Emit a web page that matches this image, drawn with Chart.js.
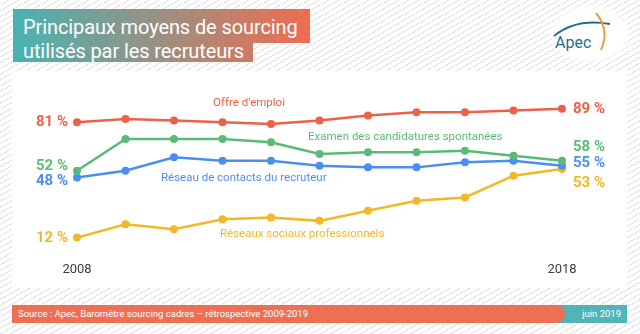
<!DOCTYPE html>
<html lang="fr">
<head>
<meta charset="utf-8">
<script src="https://cdn.jsdelivr.net/npm/chart.js@4"></script>
<style>
  html, body { margin: 0; padding: 0; }
  body {
    width: 640px; height: 334px; position: relative; overflow: hidden;
    font-family: Roboto, "Noto Sans", sans-serif;
    background: repeating-linear-gradient(150deg, #ffffff 0 4px, #e3e3e3 4px 5px);
  }
  .panel { position: absolute; left: 12px; top: 71px; width: 615px; height: 217px; background: #fff; }
  .logo-bg { position: absolute; left: 548px; top: 4px; width: 84px; height: 60px; border-radius: 50%;
    background: radial-gradient(ellipse at center, #fff 55%, rgba(255,255,255,0) 72%); }
  .titre { position: absolute; left: 13px; color: #fff; font-size: 20px; line-height: 24px; white-space: nowrap;
    letter-spacing: -0.1px;
    background: linear-gradient(90deg, #48b3b2, #f06c50) 0 0 / 297px 100% no-repeat; padding: 0 0 0 10px; box-sizing: border-box; }
  .t1 { top: 9px; height: 34px; width: 297px; padding-top: 6px; }
  .t2 { top: 43px; height: 19px; width: 240px; line-height: 17px; }
  .footer-a { position: absolute; left: 540px; top: 305px; width: 87px; height: 18px; background: #4fb5b7; }
  .footer-b { position: absolute; left: 12px; top: 305px; width: 553px; height: 18px; background: #ef6f55;
    border-radius: 0 10px 10px 0; }
  .footer-b span, .footer-a span { color: #fff; font-size: 9.5px; line-height: 18px; position: absolute; white-space: nowrap; }
  .footer-b span { left: 6px; }
  .footer-a span { right: 6px; }
  canvas { position: absolute; left: 0; top: 0; }
  svg { position: absolute; left: 548px; top: 10px; }
</style>
</head>
<body>
<div class="panel"></div>
<div class="logo-bg"></div>
<svg width="80" height="50" viewBox="0 0 80 50">
  <path d="M6 26 Q 28 8 62 14" fill="none" stroke="#1f6f8b" stroke-width="2"/>
  <path d="M48 3 Q 62 20 53 40" fill="none" stroke="#f29a3a" stroke-width="2"/>
  <text x="7" y="38" font-family="Roboto, sans-serif" font-size="16" fill="#1f6f8b">Apec</text>
</svg>
<div class="titre t1">Principaux moyens de sourcing</div>
<div class="titre t2">utilisés par les recruteurs</div>
<div class="footer-a"><span>juin 2019</span></div>
<div class="footer-b"><span>Source : Apec, Baromètre sourcing cadres – rétrospective 2009-2019</span></div>
<canvas id="chart" width="640" height="334"></canvas>
<script>
// années et séries (en %)
var annees = ["2008", "2009", "2010", "2011", "2012", "2013", "2014", "2015", "2016", "2017", "2018"];
var anneesAffichees = ["2008", "2018"];
var offreEmploi = [81, 83, 82, 81, 80, 82, 85, 87, 87, 88, 89];
var candidatures = [52, 71, 71, 71, 69, 62, 63, 63, 64, 61, 58];
var reseauContacts = [48, 52, 60, 58, 58, 55, 54, 54, 57, 58, 55];
var reseauxSociaux = [12, 20, 17, 23, 24, 22, 28, 34, 36, 49, 53];
var nomsSeries = ["Offre d\u2019emploi", "Examen des candidatures spontanées",
    "Réseau de contacts du recruteur", "Réseaux sociaux professionnels"];
var couleurs = ["#ec614a", "#5cba77", "#4b8ef0", "#f1b827"];

var serie = function (label, data, couleur) {
    return {
        label: label,
        data: data,
        borderColor: couleur,
        backgroundColor: couleur,
        pointBackgroundColor: couleur,
        pointBorderWidth: 0,
        pointRadius: 4,
        borderWidth: 2.5,
        tension: 0
    };
};

// étiquettes : valeurs en début / fin de courbe et noms des séries
var etiquettes = {
    id: "etiquettes",
    afterDatasetsDraw: function (chart) {
        var ctx = chart.ctx;
        var xs = chart.scales.x;
        var ys = chart.scales.y;
        var n = annees.length - 1;
        var decalGauche = [0, -4, 4, 1];
        var decalDroite = [0, -13, -2, 14];
        ctx.save();
        ctx.textBaseline = "middle";
        ctx.font = "bold 15px Roboto";
        chart.data.datasets.forEach(function (ds, i) {
            ctx.fillStyle = ds.borderColor;
            ctx.textAlign = "right";
            ctx.fillText(ds.data[0] + " %", xs.getPixelForValue(0) - 9, ys.getPixelForValue(ds.data[0]) + decalGauche[i]);
            ctx.textAlign = "left";
            ctx.fillText(ds.data[n] + " %", xs.getPixelForValue(n) + 11, ys.getPixelForValue(ds.data[n]) + decalDroite[i]);
        });
        ctx.font = "11.5px Roboto";
        var pos = [[249, 103, "center"], [308, 137, "left"], [161, 178, "left"], [220, 234, "left"]];
        pos.forEach(function (p, i) {
            ctx.fillStyle = couleurs[i];
            ctx.textAlign = p[2];
            ctx.fillText(nomsSeries[i], p[0], p[1]);
        });
        ctx.restore();
    }
};

var ctx = document.getElementById("chart").getContext("2d");
new Chart(ctx, {
    type: "line",
    data: {
        labels: annees,
        datasets: [
            serie(nomsSeries[0], offreEmploi, couleurs[0]),
            serie(nomsSeries[1], candidatures, couleurs[1]),
            serie(nomsSeries[2], reseauContacts, couleurs[2]),
            serie(nomsSeries[3], reseauxSociaux, couleurs[3])
        ]
    },
    options: {
        responsive: false,
        animation: false,
        layout: { padding: { left: 77, right: 78, top: 100, bottom: 54.6 } },
        plugins: { legend: { display: false }, tooltip: { enabled: false } },
        scales: {
            x: {
                offset: false,
                grid: { display: false },
                border: { display: false },
                ticks: {
                    autoSkip: false,
                    maxRotation: 0,
                    padding: 2,
                    color: "#3c3c3c",
                    font: { family: "Roboto", size: 13 },
                    callback: function (v, i) {
                        var a = annees[i];
                        return anneesAffichees.indexOf(a) >= 0 ? a : "";
                    }
                }
            },
            y: { display: false, min: 3.5, max: 94.3 }
        }
    },
    plugins: [etiquettes]
});
</script>
</body>
</html>
